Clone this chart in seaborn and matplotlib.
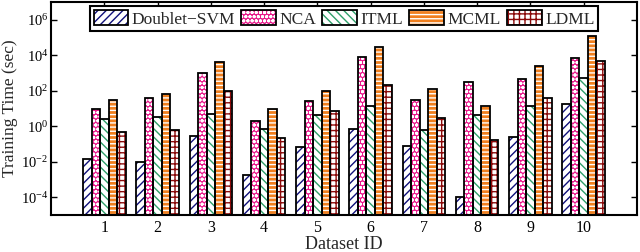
import numpy as np
import pandas as pd
import matplotlib
matplotlib.use("Agg")
import matplotlib.pyplot as plt
import seaborn as sns
from matplotlib.patches import Patch
from matplotlib.legend_handler import HandlerTuple

# Data (log10 of training time in seconds)
datasets = ["1", "2", "3", "4", "5", "6", "7", "8", "9", "10"]
methods = ["Doublet\u2212SVM", "NCA", "ITML", "MCML", "LDML"]
log_doublet = [-1.85, -2.0, -0.56, -2.74, -1.18, -0.17, -1.1, -3.96, -0.63, 1.27]
log_nca = [0.95, 1.59, 3.0, 0.28, 1.4, 3.92, 1.49, 2.52, 2.67, 3.84]
log_itml = [0.39, 0.5, 0.69, -0.13, 0.65, 1.14, -0.19, 0.65, 1.12, 2.7]
log_mcml = [1.49, 1.83, 3.62, 0.95, 2.0, 4.44, 2.11, 1.12, 3.38, 5.06]
log_ldml = [-0.32, -0.22, 1.96, -0.69, 0.86, 2.31, 0.45, -0.75, 1.59, 3.66]

series = [log_doublet, log_nca, log_itml, log_mcml, log_ldml]
rows = []
for m, vals in zip(methods, series):
    for d, v in zip(datasets, vals):
        rows.append({"dataset": d, "method": m, "time": 10 ** v})
df = pd.DataFrame(rows)

# style per method: face colour, hatch colour, hatch pattern
faces = ["white", "#e8198b", "white", "#f07f1e", "white"]
hatch_cols = ["#10107a", "white", "#2f9f6a", "white", "#8b0a0a"]
hatches = ["////", "oooo", "\\\\\\\\", "----", "+++"]

sns.set_style("ticks")
plt.rcParams["font.family"] = ["Liberation Serif", "DejaVu Serif"]
plt.rcParams["mathtext.fontset"] = "stix"
plt.rcParams["hatch.linewidth"] = 1.0

fig = plt.figure(figsize=(6.4, 2.52), dpi=100)
ax = fig.add_axes([0.080, 0.147, 0.915, 0.845])

# layer 1: fill + coloured hatch
sns.barplot(data=df, x="dataset", y="time", hue="method", order=datasets,
            hue_order=methods, log_scale=True, errorbar=None, saturation=1,
            width=0.8, legend=False, ax=ax)
for i, cont in enumerate(ax.containers):
    for p in cont:
        p.set_facecolor(faces[i])
        p.set_edgecolor(hatch_cols[i])
        p.set_hatch(hatches[i])
        p.set_linewidth(0)
n_first = len(ax.containers)

# layer 2: black outlines
sns.barplot(data=df, x="dataset", y="time", hue="method", order=datasets,
            hue_order=methods, errorbar=None, saturation=1, width=0.8,
            fill=False, legend=False, ax=ax)
for cont in ax.containers[n_first:]:
    for p in cont:
        p.set_facecolor("none")
        p.set_edgecolor("black")
        p.set_linewidth(1.3)

ax.set_yscale("log")
ax.set_ylim(1e-5, 1e7)
ax.set_xlim(-1, 10)
ax.set_yticks([1e-4, 1e-2, 1e0, 1e2, 1e4, 1e6])
ax.minorticks_off()
ax.tick_params(axis="both", which="both", direction="in", top=True, right=True,
               length=4, width=1, labelsize=11.5, colors="black")
ax.tick_params(axis="y", labelsize=10.5, pad=2)
for s in ax.spines.values():
    s.set_linewidth(1.5)
    s.set_color("black")

ax.set_xlabel("Dataset ID", fontsize=13, labelpad=0)
ax.set_ylabel("Training Time (sec)", fontsize=12.5)
ax.yaxis.set_label_coords(-0.057, 0.5)

handles = []
for i in range(len(methods)):
    fill = Patch(facecolor=faces[i], edgecolor=hatch_cols[i], hatch=hatches[i], linewidth=0)
    edge = Patch(facecolor="none", edgecolor="black", linewidth=1.3)
    handles.append((fill, edge))
leg = ax.legend(handles, methods, loc="upper center", bbox_to_anchor=(0.5, 0.981),
                ncol=5, fontsize=12.5, frameon=True, fancybox=False,
                handlelength=2.0, handleheight=1.0, handletextpad=0.2,
                columnspacing=0.35, borderpad=0.22, borderaxespad=0,
                handler_map={tuple: HandlerTuple(ndivide=1, pad=0)})
leg.get_frame().set_edgecolor("black")
leg.get_frame().set_linewidth(1.5)
leg.get_frame().set_alpha(1)

fig.savefig("out.png", dpi=100)
